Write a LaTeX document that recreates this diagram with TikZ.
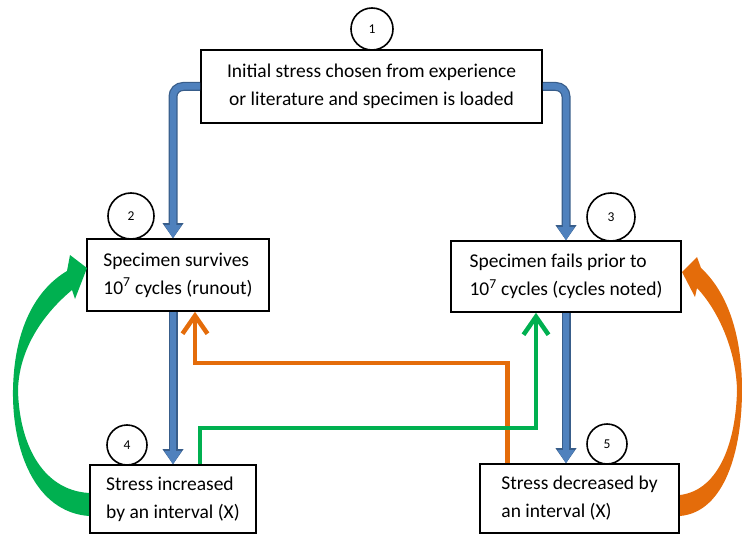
\documentclass[tikz,border=0pt]{standalone}
\usepackage{fontspec}
\setmainfont{Carlito}
\usetikzlibrary{arrows.meta}

\definecolor{flowblue}{HTML}{4F81BD}
\definecolor{flowedge}{HTML}{385D8A}
\definecolor{upgreen}{HTML}{00B050}
\definecolor{downorange}{HTML}{E46C0A}

\tikzset{
  stepbox/.style={draw=black, line width=1.6pt, fill=white, inner sep=0pt,
    align=left, font=\fontsize{19.5}{28}\selectfont},
  numcirc/.style={draw=black, line width=1.6pt, fill=white, circle, inner sep=0pt,
    font=\fontsize{13.5}{15}\selectfont},
  flow/.style={draw=flowblue, line width=6.5pt, rounded corners=10pt,
    -{Triangle[length=13pt,width=17pt,line width=0pt,fill=flowblue]},
    preaction={draw=flowedge, line width=9pt,
      -{Triangle[length=15pt,width=21pt,line width=0pt,fill=flowedge]}}},
  backline/.style={line width=4.5pt, miter limit=10,
    -{Straight Barb[length=18pt,width=25pt]}}
}

\begin{document}
\begin{tikzpicture}[x=1pt, y=-1pt]
    \useasboundingbox (0,0) rectangle (742,535);

    % Step numbers
    \node[numcirc, minimum size=42pt] (n1) at (372,29) {1};
    \node[numcirc, minimum size=46pt] (n2) at (131,216) {2};
    \node[numcirc, minimum size=48pt] (n3) at (611,217) {3};
    \node[numcirc, minimum size=40pt] (n4) at (127,445) {4};
    \node[numcirc, minimum size=40pt] (n5) at (607,444) {5};

    % Steps
    \node[stepbox, align=center, minimum width=341pt, minimum height=73pt] (s1) at (371.5,86.5)
        {Initial stress chosen from experience\\or literature and specimen is loaded};
    \node[stepbox, minimum width=182pt, minimum height=72pt] (s2) at (178,275)
        {Specimen survives\\10\textsuperscript{7} cycles (runout)};
    \node[stepbox, minimum width=230pt, minimum height=71pt] (s3) at (566,276.5)
        {Specimen fails prior to\\10\textsuperscript{7} cycles (cycles noted)};
    \node[stepbox, minimum width=166pt, minimum height=68pt] (s4) at (173,499)
        {Stress increased\\by an interval (X)};
    \node[stepbox, minimum width=199pt, minimum height=69pt] (s5) at (579.5,498.5)
        {Stress decreased by\\an interval (X)};

    % Outcome arrows
    \draw[flow] (s1.west) -| (s4.north |- s2.north);
    \draw[flow] (s1.east) -| (s3.north);
    \draw[flow] (s4.north |- s2.south) -- (s4.north);
    \draw[flow] (s3.south) -- (s3.south |- s5.north);

    % Cross links
    \coordinate (olevel) at (0,363);
    \coordinate (glevel) at (0,428);
    \draw[backline, draw=downorange] ([xshift=-72pt]s5.north) -- ([xshift=-72pt]s5.north |- olevel)
        -| ([xshift=17pt]s2.south);
    \draw[backline, draw=upgreen] ([xshift=27pt]s4.north) -- ([xshift=27pt]s4.north |- glevel)
        -| ([xshift=-30pt]s3.south);

    % Return loops
    \fill[upgreen] (89,516) .. controls (35,512) and (12,450) .. (13,390)
        .. controls (14,330) and (35,290) .. (67,271)
        -- (70,255) -- (87,268) -- (75,299) -- (72,290)
        .. controls (42,315) and (19,350) .. (18,390)
        .. controls (19,440) and (40,490) .. (89,493) -- cycle;
    \fill[downorange] (680,516) .. controls (725,512) and (742,450) .. (742,390)
        .. controls (742,330) and (725,290) .. (701,268)
        -- (697,257) -- (682,272) -- (695,297) -- (697,288)
        .. controls (718,310) and (736,350) .. (737,390)
        .. controls (736,440) and (720,490) .. (680,495) -- cycle;
\end{tikzpicture}
\end{document}
